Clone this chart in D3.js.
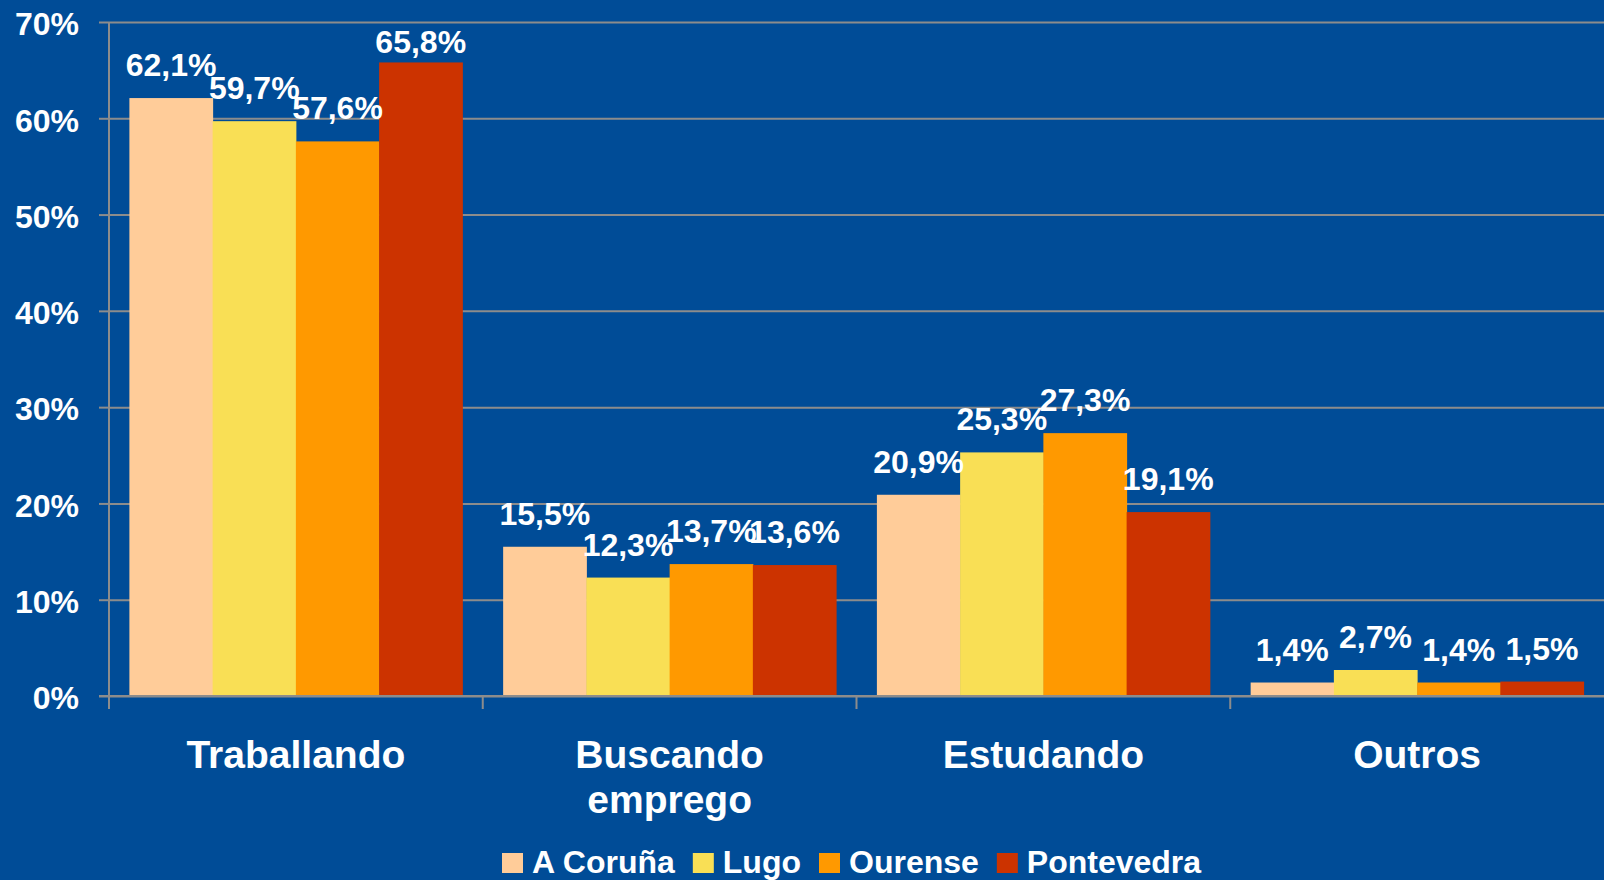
<!DOCTYPE html>
<html>
<head>
<meta charset="utf-8">
<script src="https://cdn.jsdelivr.net/npm/d3@7"></script>
<style>
  html, body { margin: 0; padding: 0; background: #004c97; }
  svg { display: block; font-family: "Liberation Sans", Arial, sans-serif; font-weight: bold; }
</style>
</head>
<body>
<div id="chart"></div>
<script>
const categories = ['Traballando', 'Buscando emprego', 'Estudando', 'Outros'];
const seriesNames = ['A Coruña', 'Lugo', 'Ourense', 'Pontevedra'];
const aCoruna = [62.1, 15.5, 20.9, 1.4];
const lugo = [59.7, 12.3, 25.3, 2.7];
const ourense = [57.6, 13.7, 27.3, 1.4];
const pontevedra = [65.8, 13.6, 19.1, 1.5];
const yTicks = [0, 10, 20, 30, 40, 50, 60, 70];
const colors = ['#ffcc99', '#f9df55', '#ff9900', '#cc3300'];

const seriesValues = [aCoruna, lugo, ourense, pontevedra];
const data = categories.map((c, i) => ({
  category: c,
  values: seriesNames.map((s, j) => ({ series: s, value: seriesValues[j][i] }))
}));

const W = 1604, H = 880;
const margin = { top: 22, right: 0, bottom: 184, left: 109 };
const width = W - margin.left - margin.right;
const height = H - margin.top - margin.bottom;
const fmt = v => v.toFixed(1).replace('.', ',') + '%';

const svg = d3.select('#chart').append('svg')
  .attr('width', W)
  .attr('height', H);

svg.append('rect').attr('width', W).attr('height', H).attr('fill', '#004c97');

const g = svg.append('g').attr('transform', `translate(${margin.left},${margin.top})`);

const x0 = d3.scaleBand().domain(categories).range([0, width]).padding(0);
const x1 = d3.scaleBand().domain(seriesNames).range([0, x0.bandwidth()])
  .paddingInner(0).paddingOuter(0.245);
const y = d3.scaleLinear().domain([0, 70]).range([height, 0]);
const color = d3.scaleOrdinal().domain(seriesNames).range(colors);

// gridlines
g.append('g')
  .call(d3.axisLeft(y).tickValues(yTicks).tickSize(-width).tickFormat(''))
  .call(a => a.select('.domain').remove())
  .selectAll('line').attr('stroke', '#8c8c8c').attr('stroke-width', 2);

// bars
const groups = g.selectAll('.grp').data(data).enter().append('g')
  .attr('transform', d => `translate(${x0(d.category)},0)`);

groups.selectAll('rect').data(d => d.values).enter().append('rect')
  .attr('x', d => x1(d.series))
  .attr('y', d => y(d.value))
  .attr('width', x1.bandwidth() + 0.5)
  .attr('height', d => height - y(d.value))
  .attr('fill', d => color(d.series));

// value labels (kept inside the plot area near the top)
groups.selectAll('text').data(d => d.values).enter().append('text')
  .attr('x', d => x1(d.series) + x1.bandwidth() / 2)
  .attr('y', d => Math.max(y(d.value) - 22, y(70) + 31))
  .attr('text-anchor', 'middle')
  .attr('fill', '#fff')
  .style('font-size', '32px')
  .text(d => fmt(d.value));

// y axis
const yAxis = g.append('g')
  .call(d3.axisLeft(y).tickValues(yTicks).tickSize(10).tickPadding(20).tickFormat(d => d + '%'));
yAxis.select('.domain').remove();
yAxis.selectAll('line').attr('stroke', '#8c8c8c').attr('stroke-width', 2);
yAxis.selectAll('text').attr('fill', '#fff').style('font-size', '32px')
  .attr('dy', '0.4em').style('font-family', '"Liberation Sans", Arial, sans-serif');
g.append('line')
  .attr('x1', 0).attr('x2', 0).attr('y1', 0).attr('y2', height + 13)
  .attr('stroke', '#8c8c8c').attr('stroke-width', 2);

// x axis
g.append('line')
  .attr('x1', -10).attr('x2', width).attr('y1', height).attr('y2', height)
  .attr('stroke', '#8c8c8c').attr('stroke-width', 2);
g.selectAll('.xtick').data(categories.slice(1)).enter().append('line')
  .attr('x1', d => x0(d)).attr('x2', d => x0(d))
  .attr('y1', height).attr('y2', height + 13)
  .attr('stroke', '#8c8c8c').attr('stroke-width', 2);

const catLabels = g.selectAll('.cat').data(categories).enter().append('text')
  .attr('text-anchor', 'middle')
  .attr('fill', '#fff')
  .style('font-size', '39px')
  .attr('transform', d => `translate(${x0(d) + x0.bandwidth() / 2},${height + 72})`);
catLabels.selectAll('tspan').data(d => d.split(' ')).enter().append('tspan')
  .attr('x', 0)
  .attr('dy', (d, i) => i === 0 ? 0 : 45)
  .text(d => d);

// legend
const legend = svg.append('g').attr('transform', 'translate(502,873)');
let lx = 0;
seriesNames.forEach((s, i) => {
  const item = legend.append('g').attr('transform', `translate(${lx},0)`);
  item.append('rect').attr('x', 0).attr('y', -20).attr('width', 21).attr('height', 20)
    .attr('fill', colors[i]);
  const t = item.append('text').attr('x', 30).attr('fill', '#fff')
    .style('font-size', '32px').text(s);
  lx += 30 + t.node().getComputedTextLength() + 18;
});
</script>
</body>
</html>
